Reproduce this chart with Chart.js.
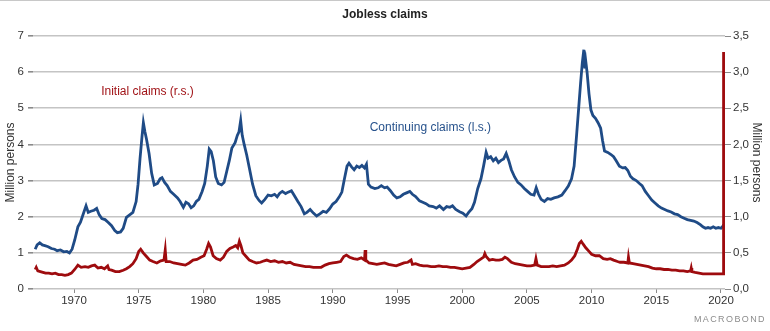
<!DOCTYPE html>
<html>
<head>
<meta charset="utf-8">
<title>Jobless claims</title>
<script src="https://cdn.jsdelivr.net/npm/chart.js@4.4.1/dist/chart.umd.min.js"></script>
<style>
  html, body { margin: 0; padding: 0; background: #fff; }
  #chart-wrap { width: 770px; height: 331px; }
</style>
</head>
<body>
<div id="chart-wrap"><canvas id="claims-chart" width="770" height="331"></canvas></div>
<script>
/* ---------- DATA ---------- */
// Continuing claims, million persons (left scale)
const contYears = [
  1967.00, 1967.15, 1967.35, 1967.55, 1967.75, 1968.00, 1968.25, 1968.50, 1968.70, 1968.95,
  1969.20, 1969.45, 1969.65, 1969.85, 1970.05, 1970.30, 1970.50, 1970.72, 1970.93, 1971.10,
  1971.30, 1971.55, 1971.75, 1971.95, 1972.15, 1972.40, 1972.65, 1972.90, 1973.15, 1973.35,
  1973.60, 1973.80, 1974.05, 1974.30, 1974.55, 1974.80, 1974.95, 1975.10, 1975.25, 1975.36,
  1975.48, 1975.60, 1975.80, 1976.00, 1976.20, 1976.45, 1976.65, 1976.80, 1977.00, 1977.20,
  1977.45, 1977.70, 1978.00, 1978.20, 1978.45, 1978.65, 1978.85, 1979.05, 1979.25, 1979.45,
  1979.65, 1979.90, 1980.10, 1980.30, 1980.45, 1980.60, 1980.77, 1980.95, 1981.15, 1981.40,
  1981.60, 1981.80, 1982.00, 1982.20, 1982.45, 1982.62, 1982.75, 1982.88, 1983.00, 1983.15,
  1983.35, 1983.55, 1983.80, 1984.05, 1984.30, 1984.50, 1984.75, 1985.00, 1985.25, 1985.50,
  1985.70, 1985.90, 1986.10, 1986.35, 1986.55, 1986.80, 1987.00, 1987.30, 1987.55, 1987.80,
  1988.00, 1988.25, 1988.50, 1988.75, 1989.00, 1989.25, 1989.50, 1989.75, 1990.00, 1990.25,
  1990.50, 1990.70, 1990.90, 1991.10, 1991.25, 1991.45, 1991.65, 1991.85, 1992.05, 1992.25,
  1992.45, 1992.60, 1992.75, 1992.95, 1993.25, 1993.50, 1993.75, 1994.00, 1994.20, 1994.45,
  1994.70, 1994.95, 1995.20, 1995.45, 1995.70, 1995.95, 1996.15, 1996.40, 1996.70, 1996.95,
  1997.20, 1997.45, 1997.75, 1998.00, 1998.25, 1998.55, 1998.80, 1999.05, 1999.25, 1999.50,
  1999.80, 2000.05, 2000.30, 2000.50, 2000.75, 2000.95, 2001.20, 2001.45, 2001.65, 2001.85,
  2002.00, 2002.20, 2002.40, 2002.60, 2002.80, 2003.00, 2003.20, 2003.40, 2003.60, 2003.80,
  2004.05, 2004.30, 2004.55, 2004.80, 2005.05, 2005.30, 2005.55, 2005.72, 2005.90, 2006.10,
  2006.35, 2006.60, 2006.85, 2007.10, 2007.40, 2007.70, 2007.95, 2008.20, 2008.45, 2008.65,
  2008.85, 2009.00, 2009.15, 2009.28, 2009.40, 2009.48, 2009.55, 2009.65, 2009.80, 2009.95,
  2010.10, 2010.30, 2010.50, 2010.70, 2010.85, 2011.00, 2011.25, 2011.50, 2011.70, 2011.90,
  2012.15, 2012.40, 2012.60, 2012.80, 2013.00, 2013.20, 2013.45, 2013.70, 2013.90, 2014.15,
  2014.40, 2014.65, 2014.90, 2015.15, 2015.40, 2015.65, 2015.90, 2016.15, 2016.40, 2016.65,
  2016.90, 2017.15, 2017.40, 2017.65, 2017.90, 2018.15, 2018.40, 2018.60, 2018.80, 2019.00,
  2019.20, 2019.40, 2019.60, 2019.80, 2020.00, 2020.15, 2020.20
];
const contValues = [
  1.10, 1.22, 1.28, 1.22, 1.20, 1.17, 1.12, 1.10, 1.06, 1.08,
  1.03, 1.04, 1.00, 1.10, 1.35, 1.72, 1.85, 2.08, 2.30, 2.12,
  2.15, 2.18, 2.23, 2.05, 1.95, 1.92, 1.84, 1.75, 1.62, 1.56,
  1.58, 1.68, 1.98, 2.05, 2.12, 2.42, 2.90, 3.60, 4.20, 4.60,
  4.35, 4.15, 3.75, 3.20, 2.88, 2.92, 3.05, 3.08, 2.95, 2.86,
  2.70, 2.62, 2.52, 2.42, 2.26, 2.40, 2.36, 2.25, 2.30, 2.42,
  2.48, 2.70, 2.92, 3.40, 3.87, 3.80, 3.55, 3.10, 2.92, 2.88,
  2.95, 3.25, 3.55, 3.90, 4.05, 4.25, 4.35, 4.66, 4.25, 4.00,
  3.70, 3.35, 2.90, 2.58, 2.45, 2.38, 2.48, 2.60, 2.58, 2.62,
  2.55, 2.65, 2.70, 2.64, 2.68, 2.72, 2.60, 2.42, 2.28, 2.08,
  2.12, 2.20, 2.10, 2.02, 2.08, 2.15, 2.12, 2.22, 2.35, 2.42,
  2.55, 2.68, 3.05, 3.40, 3.48, 3.38, 3.30, 3.40, 3.36, 3.42,
  3.35, 3.45, 2.90, 2.82, 2.78, 2.80, 2.86, 2.80, 2.82, 2.72,
  2.60, 2.52, 2.55, 2.62, 2.66, 2.70, 2.62, 2.56, 2.44, 2.40,
  2.36, 2.30, 2.28, 2.24, 2.30, 2.20, 2.28, 2.26, 2.30, 2.20,
  2.14, 2.10, 2.02, 2.12, 2.22, 2.40, 2.78, 3.05, 3.40, 3.78,
  3.62, 3.66, 3.55, 3.62, 3.50, 3.56, 3.60, 3.75, 3.55, 3.30,
  3.10, 2.95, 2.88, 2.78, 2.70, 2.62, 2.60, 2.80, 2.62, 2.48,
  2.42, 2.50, 2.48, 2.52, 2.55, 2.60, 2.72, 2.85, 3.05, 3.40,
  4.30, 5.00, 5.70, 6.25, 6.62, 6.10, 6.30, 6.00, 5.40, 4.95,
  4.80, 4.72, 4.60, 4.45, 4.10, 3.82, 3.78, 3.72, 3.66, 3.55,
  3.40, 3.35, 3.36, 3.28, 3.12, 3.05, 3.00, 2.92, 2.86, 2.70,
  2.58, 2.46, 2.38, 2.30, 2.24, 2.20, 2.16, 2.13, 2.08, 2.06,
  2.00, 1.96, 1.92, 1.90, 1.88, 1.84, 1.78, 1.72, 1.68, 1.70,
  1.68, 1.72, 1.68, 1.70, 1.68, 1.74, 1.78
];

// Initial claims, million persons (right scale)
const initYears = [
  1967.00, 1967.08, 1967.20, 1967.40, 1967.60, 1967.80, 1968.05, 1968.30, 1968.55, 1968.80,
  1969.05, 1969.30, 1969.55, 1969.80, 1970.05, 1970.30, 1970.55, 1970.85, 1971.10, 1971.35,
  1971.60, 1971.85, 1972.10, 1972.35, 1972.60, 1972.70, 1972.90, 1973.20, 1973.50, 1973.80,
  1974.05, 1974.30, 1974.55, 1974.80, 1975.00, 1975.15, 1975.35, 1975.60, 1975.85, 1976.10,
  1976.40, 1976.70, 1976.95, 1977.05, 1977.12, 1977.40, 1977.70, 1978.00, 1978.30, 1978.60,
  1978.90, 1979.20, 1979.50, 1979.80, 1980.05, 1980.25, 1980.40, 1980.55, 1980.75, 1981.00,
  1981.30, 1981.55, 1981.80, 1982.05, 1982.30, 1982.50, 1982.65, 1982.78, 1982.90, 1983.05,
  1983.30, 1983.55, 1983.80, 1984.10, 1984.40, 1984.70, 1984.90, 1985.20, 1985.50, 1985.80,
  1986.10, 1986.40, 1986.70, 1987.00, 1987.30, 1987.60, 1987.90, 1988.20, 1988.50, 1988.80,
  1989.10, 1989.40, 1989.70, 1990.00, 1990.30, 1990.60, 1990.85, 1991.05, 1991.30, 1991.60,
  1991.90, 1992.20, 1992.45, 1992.50, 1992.55, 1992.80, 1993.10, 1993.40, 1993.70, 1994.00,
  1994.30, 1994.60, 1994.90, 1995.20, 1995.50, 1995.80, 1996.05, 1996.15, 1996.40, 1996.70,
  1997.00, 1997.30, 1997.60, 1997.90, 1998.20, 1998.50, 1998.80, 1999.10, 1999.40, 1999.70,
  2000.00, 2000.30, 2000.60, 2000.90, 2001.15, 2001.40, 2001.65, 2001.75, 2001.85, 2002.10,
  2002.35, 2002.60, 2002.85, 2003.10, 2003.30, 2003.50, 2003.80, 2004.10, 2004.40, 2004.70,
  2005.00, 2005.30, 2005.60, 2005.70, 2005.80, 2006.10, 2006.40, 2006.70, 2007.00, 2007.30,
  2007.60, 2007.90, 2008.20, 2008.45, 2008.70, 2008.90, 2009.05, 2009.20, 2009.35, 2009.55,
  2009.80, 2010.00, 2010.30, 2010.60, 2010.90, 2011.20, 2011.45, 2011.70, 2012.00, 2012.20,
  2012.50, 2012.80, 2012.85, 2012.92, 2013.20, 2013.50, 2013.80, 2014.10, 2014.40, 2014.70,
  2015.00, 2015.30, 2015.60, 2015.90, 2016.20, 2016.50, 2016.80, 2017.10, 2017.40, 2017.65,
  2017.70, 2017.75, 2018.00, 2018.30, 2018.60, 2018.90, 2019.20, 2019.50, 2019.80, 2020.05,
  2020.18, 2020.20
];
const initValues = [
  0.27, 0.30, 0.25, 0.24, 0.23, 0.22, 0.22, 0.21, 0.22, 0.20,
  0.20, 0.19, 0.20, 0.22, 0.27, 0.33, 0.30, 0.31, 0.30, 0.32,
  0.33, 0.29, 0.30, 0.28, 0.32, 0.27, 0.26, 0.24, 0.24, 0.26,
  0.28, 0.31, 0.35, 0.42, 0.52, 0.55, 0.50, 0.45, 0.40, 0.38,
  0.36, 0.39, 0.40, 0.54, 0.38, 0.38, 0.36, 0.35, 0.34, 0.33,
  0.36, 0.40, 0.41, 0.44, 0.46, 0.55, 0.63, 0.58, 0.46, 0.42,
  0.40, 0.44, 0.52, 0.56, 0.58, 0.60, 0.57, 0.66, 0.60, 0.50,
  0.45, 0.40, 0.38, 0.36, 0.37, 0.39, 0.40, 0.38, 0.39, 0.37,
  0.38, 0.36, 0.37, 0.34, 0.33, 0.32, 0.31, 0.31, 0.30, 0.30,
  0.30, 0.33, 0.35, 0.36, 0.37, 0.38, 0.45, 0.47, 0.44, 0.42,
  0.41, 0.43, 0.40, 0.54, 0.40, 0.36, 0.35, 0.34, 0.35, 0.36,
  0.34, 0.33, 0.32, 0.34, 0.36, 0.37, 0.40, 0.34, 0.35, 0.33,
  0.32, 0.32, 0.31, 0.31, 0.32, 0.31, 0.31, 0.30, 0.30, 0.29,
  0.28, 0.29, 0.30, 0.34, 0.38, 0.41, 0.44, 0.49, 0.45, 0.40,
  0.41, 0.40, 0.40, 0.41, 0.44, 0.42, 0.37, 0.35, 0.34, 0.33,
  0.32, 0.32, 0.33, 0.42, 0.33, 0.31, 0.31, 0.31, 0.32, 0.31,
  0.32, 0.33, 0.36, 0.40, 0.46, 0.55, 0.63, 0.66, 0.62, 0.57,
  0.52, 0.48, 0.46, 0.46, 0.42, 0.41, 0.42, 0.40, 0.38, 0.37,
  0.37, 0.36, 0.44, 0.36, 0.35, 0.34, 0.33, 0.32, 0.31, 0.29,
  0.28, 0.28, 0.27, 0.27, 0.26, 0.26, 0.25, 0.25, 0.24, 0.25,
  0.29, 0.24, 0.23, 0.22, 0.21, 0.21, 0.21, 0.21, 0.21, 0.21,
  0.21, 3.28
];

// Axis ticks
const yearTicks = [1970, 1975, 1980, 1985, 1990, 1995, 2000, 2005, 2010, 2015, 2020];
const leftTicks = [0, 1, 2, 3, 4, 5, 6, 7];
const rightTicks = [0, 0.5, 1, 1.5, 2, 2.5, 3, 3.5];
const rightTickLabels = ['0,0', '0,5', '1,0', '1,5', '2,0', '2,5', '3,0', '3,5'];

/* ---------- COLOURS ---------- */
const BLUE = '#1f4b86';
const RED = '#9e0b0e';
const GRID = '#c4c4c4';
const TEXT = '#333333';

Chart.defaults.font.family = '"Liberation Sans", Arial, sans-serif';
Chart.defaults.color = TEXT;

function toPoints(xs, ys) {
  return xs.map((x, i) => ({ x: x, y: ys[i] }));
}

/* ---------- LABELS, LOGO ---------- */
const overlayPlugin = {
  id: 'overlay',
  afterDraw(chart) {
    const ctx = chart.ctx;
    const x = chart.scales.x;
    const yl = chart.scales.yLeft;
    ctx.save();

    // thin rule along the top edge
    ctx.strokeStyle = '#c8c8c8';
    ctx.lineWidth = 1;
    ctx.beginPath();
    ctx.moveTo(0, 0.5);
    ctx.lineTo(chart.width, 0.5);
    ctx.stroke();

    // series labels
    ctx.font = '12px "Liberation Sans", Arial, sans-serif';
    ctx.textBaseline = 'middle';
    ctx.textAlign = 'left';
    ctx.fillStyle = '#a11418';
    ctx.fillText('Initial claims (r.s.)', x.getPixelForValue(1972.1), yl.getPixelForValue(5.45));
    ctx.fillStyle = '#27528c';
    ctx.fillText('Continuing claims (l.s.)', x.getPixelForValue(1992.85), yl.getPixelForValue(4.45));

    // source logo
    ctx.font = '9px "Liberation Sans", Arial, sans-serif';
    ctx.fillStyle = '#8c8c8c';
    ctx.textAlign = 'right';
    ctx.letterSpacing = '1.4px';
    ctx.fillText('MACROBOND', 766, 320);
    ctx.restore();
  }
};

/* ---------- CHART ---------- */
const ctx = document.getElementById('claims-chart');

new Chart(ctx, {
  type: 'line',
  data: {
    datasets: [
      {
        label: 'Continuing claims (l.s.)',
        data: toPoints(contYears, contValues),
        yAxisID: 'yLeft',
        borderColor: BLUE,
        borderWidth: 2.8,
        pointRadius: 0,
        tension: 0,
        order: 1
      },
      {
        label: 'Initial claims (r.s.)',
        data: toPoints(initYears, initValues),
        yAxisID: 'yRight',
        borderColor: RED,
        borderWidth: 2.8,
        pointRadius: 0,
        tension: 0,
        order: 0
      }
    ]
  },
  options: {
    responsive: false,
    animation: false,
    devicePixelRatio: 1,
    layout: { padding: 0 },
    plugins: {
      legend: { display: false },
      tooltip: { enabled: false },
      title: {
        display: true,
        text: 'Jobless claims',
        color: '#222',
        font: { size: 12, weight: 'bold' },
        padding: { top: 7, bottom: 14.6 }
      }
    },
    scales: {
      x: {
        type: 'linear',
        min: 1966.83,
        max: 2020.31,
        afterBuildTicks: s => { s.ticks = yearTicks.map(v => ({ value: v })); },
        afterFit: s => { s.height = 42; },
        ticks: {
          callback: v => String(v),
          font: { size: 11.5 },
          color: TEXT,
          padding: 1,
          maxRotation: 0
        },
        grid: { drawOnChartArea: false, tickLength: 4, color: '#8a8a8a' },
        border: { display: false }
      },
      yLeft: {
        type: 'linear',
        position: 'left',
        min: 0,
        max: 7,
        afterBuildTicks: s => { s.ticks = leftTicks.map(v => ({ value: v })); },
        afterFit: s => { s.width = 33; },
        ticks: { callback: v => String(v), font: { size: 11.5 }, color: TEXT, padding: 4 },
        grid: { color: GRID, lineWidth: 1.6, tickLength: 5, tickColor: '#8a8a8a' },
        border: { display: false },
        title: {
          display: true,
          text: 'Million persons',
          font: { size: 12 },
          color: TEXT,
          padding: { top: 3, bottom: 0 }
        }
      },
      yRight: {
        type: 'linear',
        position: 'right',
        min: 0,
        max: 3.5,
        afterBuildTicks: s => { s.ticks = rightTicks.map(v => ({ value: v })); },
        afterFit: s => { s.width = 45; },
        ticks: {
          callback: (v, i) => rightTickLabels[i],
          font: { size: 11.5 },
          color: TEXT,
          padding: 2
        },
        grid: { drawOnChartArea: false, tickLength: 6, color: '#8a8a8a' },
        border: { display: false },
        title: {
          display: true,
          text: 'Million persons',
          font: { size: 12 },
          color: TEXT,
          padding: { top: 6, bottom: 0 }
        }
      }
    }
  },
  plugins: [overlayPlugin]
});
</script>
</body>
</html>
